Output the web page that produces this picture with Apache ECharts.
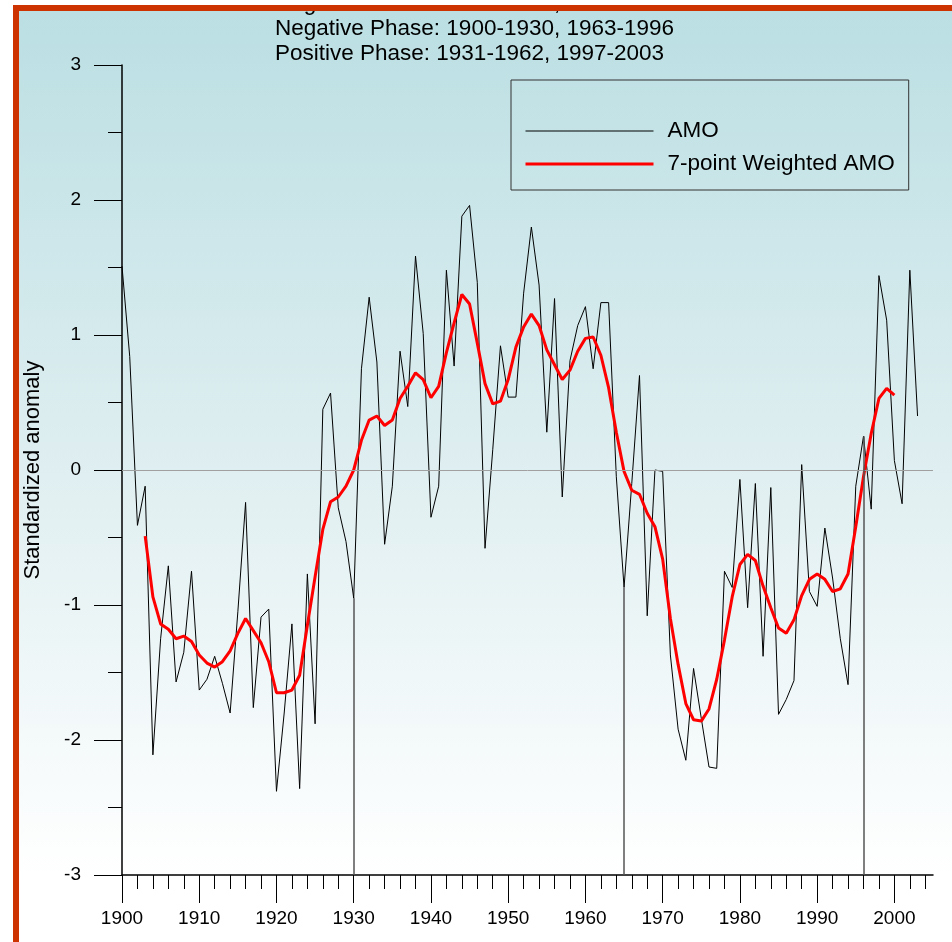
<!DOCTYPE html>
<html><head><meta charset="utf-8">
<script src="https://cdn.jsdelivr.net/npm/echarts@6/dist/echarts.min.js"></script>
<style>html,body{margin:0;padding:0;background:#fff}#c{width:952px;height:942px}</style>
</head><body><div id="c"></div>
<script>
// ---- data ----
const amoStartYear = 1900;
const amoValues = [
  1.51, 0.84, -0.41, -0.12, -2.11, -1.25, -0.71, -1.57, -1.35, -0.75,
  -1.63, -1.55, -1.38, -1.58, -1.80, -1.05, -0.24, -1.76, -1.09, -1.03,
  -2.38, -1.80, -1.14, -2.36, -0.77, -1.88, 0.45, 0.57, -0.28, -0.53,
  -0.95, 0.75, 1.28, 0.80, -0.55, -0.12, 0.88, 0.47, 1.585, 1.01,
  -0.35, -0.12, 1.48, 0.77, 1.88, 1.96, 1.39, -0.58, 0.15, 0.92,
  0.54, 0.54, 1.31, 1.80, 1.37, 0.28, 1.27, -0.20, 0.81, 1.07,
  1.21, 0.75, 1.24, 1.24, -0.05, -0.87, -0.10, 0.70, -1.08, 0.00,
  -0.01, -1.37, -1.92, -2.15, -1.47, -1.84, -2.20, -2.21, -0.75, -0.87,
  -0.07, -1.02, -0.10, -1.38, -0.13, -1.81, -1.70, -1.56, 0.04, -0.90,
  -1.01, -0.43, -0.80, -1.25, -1.59, -0.12, 0.25, -0.29, 1.44, 1.11,
  0.07, -0.25, 1.48, 0.40
];
const smoothStartYear = 1903;
const smoothValues = [
  -0.49, -0.94, -1.14, -1.18, -1.25, -1.23, -1.27,
  -1.37, -1.43, -1.46, -1.42, -1.34, -1.21, -1.10, -1.19, -1.28, -1.42,
  -1.65, -1.65, -1.63, -1.52, -1.15, -0.79, -0.44, -0.235, -0.20, -0.12,
  0.00, 0.22, 0.37, 0.40, 0.33, 0.37, 0.53, 0.62, 0.72, 0.67,
  0.535, 0.62, 0.87, 1.09, 1.30, 1.23, 0.94, 0.64, 0.49, 0.51,
  0.67, 0.91, 1.06, 1.155, 1.07, 0.89, 0.78, 0.67, 0.74, 0.88,
  0.975, 0.985, 0.85, 0.61, 0.28, -0.01, -0.15, -0.18, -0.32, -0.42,
  -0.66, -1.10, -1.44, -1.73, -1.85, -1.86, -1.77, -1.55, -1.26, -0.94,
  -0.70, -0.625, -0.67, -0.86, -1.02, -1.17, -1.21, -1.11, -0.93, -0.81,
  -0.77, -0.81, -0.90, -0.88, -0.77, -0.42, -0.05, 0.27, 0.53, 0.605,
  0.555
];
const phaseYears = [1930, 1965, 1996];
const decadeTicks = [1900, 1910, 1920, 1930, 1940, 1950, 1960, 1970, 1980, 1990, 2000];
const minorTicks = [1900,1902,1904,1906,1908,1910,1912,1914,1916,1918,1920,1922,1924,1926,1928,
  1930,1932,1934,1936,1938,1940,1942,1944,1946,1948,1950,1952,1954,1956,1958,1960,1962,1964,
  1966,1968,1970,1972,1974,1976,1978,1980,1982,1984,1986,1988,1990,1992,1994,1996,1998,2000,2002,2004];
const seriesNames = ['AMO', '7-point Weighted AMO'];
const titleLines = ['Negative Phase: 1900-1930, 1963-1996', 'Positive Phase: 1931-1962, 1997-2003'];
const yAxisName = 'Standardized anomaly';

// ---- chart ----
const FONT = '"Liberation Sans", Arial, sans-serif';
const chart = echarts.init(document.getElementById('c'), null, {renderer: 'canvas'});
const amoData = amoValues.map((v, i) => [amoStartYear + i, v]);
const smoothData = smoothValues.map((v, i) => [smoothStartYear + i, v]);

const phaseLines = phaseYears.map(y => [
  {coord: [y, -3], lineStyle: {color: '#555', width: 1.5, type: 'solid'}},
  {coord: [y, amoValues[y - amoStartYear]]}
]);

chart.setOption({
  animation: false,
  backgroundColor: '#ffffff',
  textStyle: {fontFamily: FONT},
  title: {
    text: titleLines.join('\n'),
    left: 275, top: 16.5, padding: 0,
    textStyle: {fontSize: 22.5, fontWeight: 'normal', color: '#000', lineHeight: 25, fontFamily: FONT}
  },
  graphic: [
    {type: 'rect', silent: true, z: -100,
      shape: {x: 19, y: 11, width: 933, height: 931},
      style: {fill: new echarts.graphic.LinearGradient(0, 0, 0, 1, [
        {offset: 0, color: '#bbdfe3'}, {offset: 0.5, color: '#e0eff1'}, {offset: 0.93, color: '#ffffff'}, {offset: 1, color: '#ffffff'}])}},
    {type: 'text', silent: true, z: -50, x: 275, y: 4,
      style: {text: titleLines[0], fontSize: 22.5, fontFamily: FONT, fill: '#000', verticalAlign: 'middle'}},
    {type: 'rect', silent: true, z: 100, shape: {x: 0, y: 0, width: 952, height: 5}, style: {fill: '#ffffff'}},
    {type: 'rect', silent: true, z: 100, shape: {x: 13, y: 5, width: 939, height: 6}, style: {fill: '#cc3300'}},
    {type: 'rect', silent: true, z: 100, shape: {x: 13, y: 5, width: 6, height: 937}, style: {fill: '#cc3300'}}
  ],
  legend: {
    orient: 'vertical', left: 511, top: 80,
    padding: [39.5, 14, 14.5, 13],
    itemWidth: 128, itemHeight: 14, itemGap: 10,
    borderColor: '#333', borderWidth: 1,
    itemStyle: {opacity: 0},
    textStyle: {fontSize: 22.5, color: '#000', lineHeight: 23, padding: [0, 0, 0, 9], fontFamily: FONT},
    data: [
      {name: seriesNames[0], lineStyle: {width: 1, color: '#000'}},
      {name: seriesNames[1], lineStyle: {width: 3, color: '#ff0000'}}
    ]
  },
  grid: {left: 122, right: 19, top: 65, bottom: 67, containLabel: false},
  xAxis: [
    {type: 'value', min: 1900, max: 2005, position: 'bottom',
      axisLine: {show: true, onZero: false, lineStyle: {color: '#000', width: 1.5}},
      axisTick: {show: true, length: 14, customValues: minorTicks, lineStyle: {color: '#000', width: 1}},
      axisLabel: {show: false}, splitLine: {show: false}},
    {type: 'value', min: 1900, max: 2005, position: 'bottom',
      axisLine: {show: false, onZero: false},
      axisTick: {show: true, length: 28, customValues: decadeTicks, lineStyle: {color: '#000', width: 1}},
      axisLabel: {show: true, customValues: decadeTicks, margin: 34, fontSize: 19, color: '#000', fontFamily: FONT,
        formatter: v => String(v)},
      splitLine: {show: false}}
  ],
  yAxis: {
    type: 'value', min: -3, max: 3, interval: 1,
    name: yAxisName, nameLocation: 'middle', nameGap: 78, nameRotate: 90,
    nameTextStyle: {fontSize: 22, color: '#000', fontFamily: FONT},
    axisLine: {show: true, onZero: false, lineStyle: {color: '#000', width: 1.5}},
    axisTick: {show: true, length: 28, lineStyle: {color: '#000', width: 1}},
    minorTick: {show: true, splitNumber: 2, length: 14, lineStyle: {color: '#000', width: 1}},
    axisLabel: {margin: 41, fontSize: 19, color: '#000', fontFamily: FONT},
    splitLine: {show: false}
  },
  series: [
    {name: seriesNames[0], type: 'line', xAxisIndex: 0, data: amoData, symbol: 'none',
      lineStyle: {color: '#000', width: 1}, itemStyle: {color: '#000'}, z: 3,
      markLine: {silent: true, symbol: 'none', label: {show: false}, animation: false,
        data: [{yAxis: 0, lineStyle: {color: '#a0a0a0', width: 1, type: 'solid'}}].concat(phaseLines)}},
    {name: seriesNames[1], type: 'line', xAxisIndex: 0, data: smoothData, symbol: 'none',
      lineStyle: {color: '#ff0000', width: 3}, itemStyle: {color: '#ff0000'}, z: 4}
  ]
});
</script>
</body></html>
